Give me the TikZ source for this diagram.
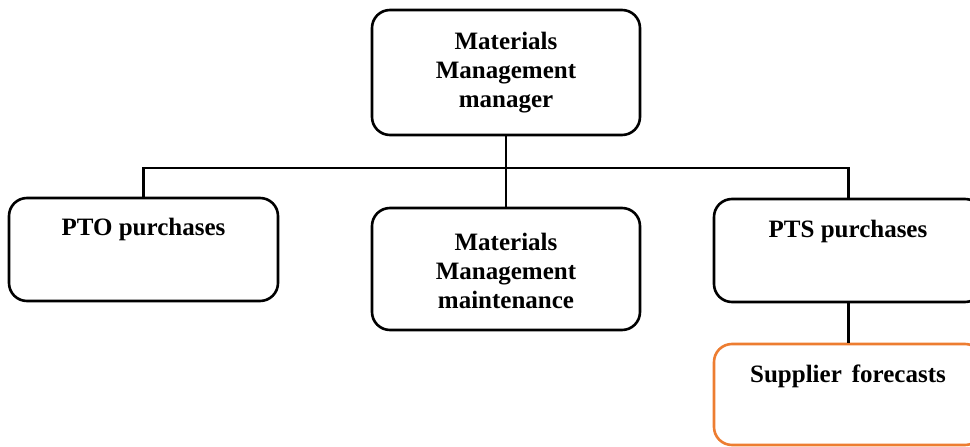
\documentclass[tikz,border=0pt]{standalone}
\usepackage{fontspec}
\setmainfont{Liberation Serif}
\definecolor{boxorange}{HTML}{ED7D31}
\begin{document}
\begin{tikzpicture}[x=1pt,y=-1pt,
  box/.style={draw=black,line width=2.6pt,rounded corners=18pt,rectangle,inner sep=0pt},
  orgbox/.style={box,draw=boxorange},
  lbl/.style={font=\fontsize{25}{29}\selectfont\bfseries,align=center,inner sep=0pt},
  link/.style={draw=black,line width=2.4pt}]
\useasboundingbox (0,0) rectangle (970,447);
\clip (0,0) rectangle (970,447);
\node[box,minimum width=268pt,minimum height=125pt] (top) at (506,72.5) {};
\node[box,minimum width=269pt,minimum height=103pt] (pto) at (143.5,249.5) {};
\node[box,minimum width=268pt,minimum height=122pt] (mid) at (506,269) {};
\node[box,minimum width=269pt,minimum height=103pt] (pts) at (848.5,250.5) {};
\node[orgbox,minimum width=269pt,minimum height=101pt] (sup) at (848.5,394.5) {};
\coordinate (bus) at (506,168);
\node[lbl] (toptext) at (506,73) {Materials\\Management\\manager};
\node[lbl] (midtext) at (506,271) {Materials\\Management\\maintenance};
\node[lbl,anchor=base] (ptotext) at (143.5,235) {PTO purchases};
\node[lbl,anchor=base] (ptstext) at (848,237) {PTS purchases};
\node[lbl,anchor=base] (suptext) at (848,382) {Supplier\hspace{0.4em}forecasts};
\draw[link] (top.south) -- (mid.north);
\draw[link] (pto.north) -- (pto.north |- bus) -- (pts.north |- bus) -- (pts.north);
\draw[link] (pts.south) -- (sup.north);
\end{tikzpicture}
\end{document}
